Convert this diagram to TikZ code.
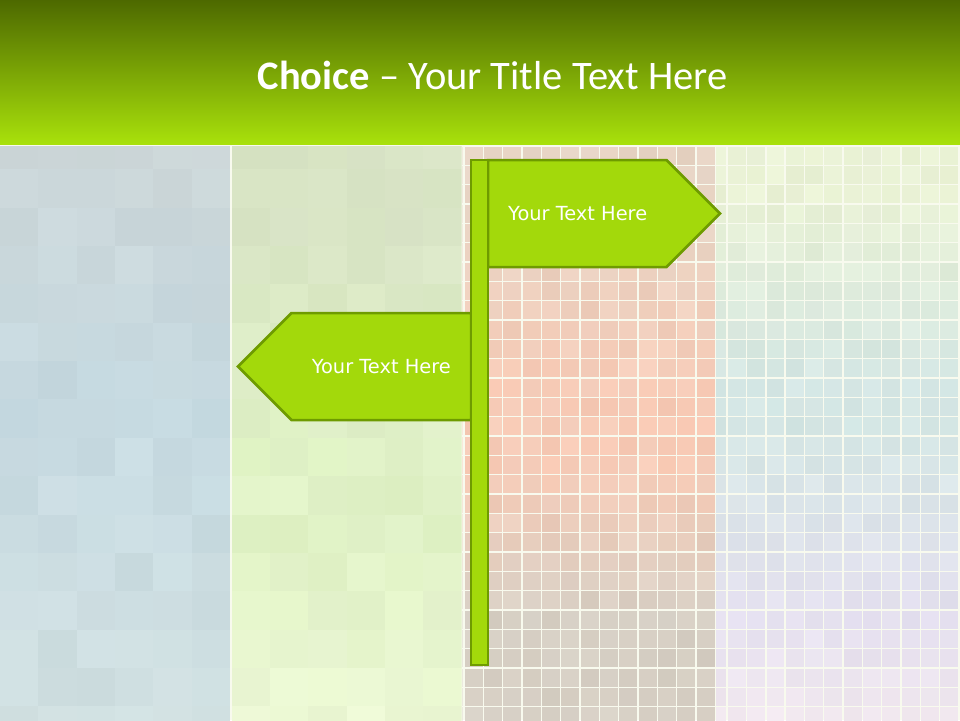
\documentclass[tikz,border=0pt]{standalone}
\usepackage{fontspec}
\setmainfont{Carlito}
\newfontfamily\signfont{DejaVu Sans}
\usetikzlibrary{positioning, shapes.symbols}

\definecolor{barTop}{HTML}{4D6900}
\definecolor{barMid}{HTML}{78A802}
\definecolor{barBot}{HTML}{A9E20B}
\definecolor{signFill}{HTML}{A3D90B}
\definecolor{signLine}{HTML}{6E9B00}
\definecolor{gapLine}{HTML}{F8FAEE}
% panel colours, top / middle / bottom
\definecolor{pA1}{HTML}{CDD8DA}
\definecolor{pA2}{HTML}{C7DCE4}
\definecolor{pA3}{HTML}{D2E2E3}
\definecolor{pB1}{HTML}{D8E5C3}
\definecolor{pB2}{HTML}{E2F5C6}
\definecolor{pB3}{HTML}{EEFBD4}
\definecolor{pC1}{HTML}{E9D4C3}
\definecolor{pC2}{HTML}{FACAB4}
\definecolor{pC3}{HTML}{D7CFC3}
\definecolor{pD1}{HTML}{ECF5D6}
\definecolor{pD2}{HTML}{D4E8E6}
\definecolor{pD3}{HTML}{E6E1F2}
\definecolor{pD4}{HTML}{F4EAF2}

\begin{document}
\begin{tikzpicture}[x=1pt, y=-1pt,
  sign/.style={shape=signal, draw=signLine, fill=signFill, line width=2.5pt,
               signal pointer angle=90, minimum height=107pt,
               inner sep=0pt, outer sep=0pt},
  post/.style={draw=signLine, fill=signFill, line width=2.5pt,
               minimum width=17pt, minimum height=505pt,
               inner sep=0pt, outer sep=0pt},
  signtext/.style={font=\signfont\fontsize{19.4}{22}\selectfont,
                   text=white, inner sep=0pt}]
  \useasboundingbox (0,0) rectangle (960,720);
  \pgfmathsetseed{17}

  % title bar
  \shade[top color=barTop, middle color=barMid, bottom color=barBot]
    (0,0) rectangle (960,145);
  \fill[gapLine] (0,144.5) rectangle (960,720);
  \node[font=\fontsize{40.5}{48}\selectfont, text=white, anchor=base]
    (title) at (492.5,89) {\textbf{Choice} – Your Title Text Here};

  % big mosaic, two left panels
  \begin{scope}
    \clip (0,146) rectangle (230,720);
    \foreach \c in {0,...,5}
      \foreach \r in {0,...,15} {
        \pgfmathsetmacro\ta{min(100,max(0,100*\r/7))}
        \pgfmathsetmacro\tb{100-min(100,max(0,100*(\r-7)/8))}
        \pgfmathsetmacro\v{91+9*rnd}
        \pgfmathsetmacro\w{97+3*rnd}
        \fill[fill={pA2!\ta!pA1!\tb!pA3!\v!white!\w!black}]
          (38.33*\c, 131+38.35*\r) rectangle ++(38.4,38.4);
      }
  \end{scope}
  \begin{scope}
    \clip (231.7,146) rectangle (461.5,720);
    \foreach \c in {0,...,5}
      \foreach \r in {0,...,15} {
        \pgfmathsetmacro\ta{min(100,max(0,100*(\r-2)/6))}
        \pgfmathsetmacro\tb{100-min(100,max(0,100*(\r-10)/5))}
        \pgfmathsetmacro\v{86+14*rnd}
        \pgfmathsetmacro\w{97+3*rnd}
        \fill[fill={pB2!\ta!pB1!\tb!pB3!\v!white!\w!black}]
          (231.7+38.33*\c, 131+38.35*\r) rectangle ++(38.4,38.4);
      }
  \end{scope}

  % small tiles, two right panels
  \begin{scope}
    \clip (462.5,146) rectangle (715.5,720);
    \foreach \c in {-1,...,12}
      \foreach \r in {0,...,29} {
        \pgfmathsetmacro\ta{min(100,max(0,100*(\r-3)/9))}
        \pgfmathsetmacro\tb{100-min(100,max(0,100*(\r-16)/8))}
        \pgfmathsetmacro\v{84+16*rnd}
        \pgfmathsetmacro\w{97+3*rnd}
        \fill[fill={pC2!\ta!pC1!\tb!pC3!\v!white!\w!black}]
          (464.8+19.33*\c, 146.8+19.33*\r) rectangle ++(17.8,17.8);
      }
  \end{scope}
  \begin{scope}
    \clip (716,146) rectangle (960,720);
    \foreach \c in {-1,...,13}
      \foreach \r in {0,...,29} {
        \pgfmathsetmacro\ta{min(100,max(0,100*(\r-2)/10))}
        \pgfmathsetmacro\tb{100-min(100,max(0,100*(\r-14)/10))}
        \pgfmathsetmacro\tc{100-min(100,max(0,100*(\r-24)/5))}
        \pgfmathsetmacro\v{84+16*rnd}
        \pgfmathsetmacro\w{97+3*rnd}
        \fill[fill={pD2!\ta!pD1!\tb!pD3!\tc!pD4!\v!white!\w!black}]
          (708.5+19.33*\c, 146.8+19.33*\r) rectangle ++(17.8,17.8);
      }
  \end{scope}

  % signpost
  \coordinate (foot) at (479.5,412.5);
  \node[sign, signal to=east, minimum width=232pt, anchor=north west]
    (signR) at (488,160) {};
  \node[sign, signal to=west, minimum width=233pt, anchor=north east]
    (signL) at (471,313) {};
  \node[post] (post) at (foot) {};
  \node[signtext, right=20pt of signR.west] (textR) {Your Text Here};
  \node[signtext, left=20pt of signL.east] (textL) {Your Text Here};
\end{tikzpicture}
\end{document}
